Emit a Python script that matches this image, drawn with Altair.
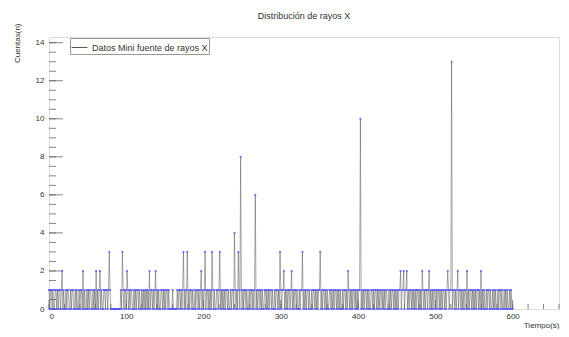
import altair as alt
import pandas as pd

# Counts per second, t = 0 .. 600 s
counts = [
    1,0,1,1,0,1,0,0,1,1,0,1,0,1,1,0,1,2,0,1,0,0,1,0,1,
    1,0,0,1,0,1,1,0,0,1,0,1,0,0,1,0,1,1,0,2,0,1,0,0,1,
    0,1,0,1,1,0,0,1,0,1,0,2,0,1,0,1,2,0,1,0,0,1,1,0,1,
    1,0,1,3,1,0,0,0,0,0,0,0,0,0,0,0,0,0,1,0,3,1,0,1,1,
    0,2,1,0,1,0,1,1,0,0,1,0,1,0,1,1,0,1,0,0,1,0,1,0,1,
    0,1,0,1,0,2,0,1,1,0,1,0,1,2,0,1,0,1,0,0,1,1,0,1,0,
    1,0,1,1,0,1,0,0,0,0,1,0,0,0,0,0,1,0,1,1,0,1,0,1,3,
    0,1,0,1,3,0,1,0,1,1,0,1,0,0,1,0,1,1,0,1,0,1,2,0,1,
    0,1,3,0,1,1,0,1,0,1,0,3,1,0,1,0,0,1,1,0,1,3,0,1,0,
    1,0,1,0,1,1,0,1,0,0,1,0,1,1,0,4,1,0,1,0,3,1,0,8,1,
    0,1,0,1,1,0,1,0,0,1,0,1,1,0,1,0,1,6,0,1,0,1,1,0,1,
    0,1,0,0,1,1,0,1,0,1,0,1,1,0,1,0,0,1,0,1,1,0,1,0,3,
    1,0,1,1,2,0,1,0,1,0,1,1,0,1,2,0,1,0,1,1,0,1,0,0,1,
    0,1,1,3,0,1,0,1,0,1,1,0,1,0,0,1,0,1,1,0,1,0,1,0,1,
    1,3,0,1,0,1,1,0,1,0,1,0,0,1,1,0,1,0,1,0,1,1,0,1,0,
    1,0,1,0,0,1,0,1,1,0,1,0,2,1,0,1,0,1,0,1,1,0,1,0,1,
    0,1,1,10,0,1,0,1,0,1,1,0,1,0,1,0,0,1,1,0,1,0,1,1,0,
    1,0,1,0,1,1,0,1,0,1,0,1,1,0,0,1,0,1,0,1,1,0,1,0,1,
    0,1,0,1,1,2,0,1,1,2,0,1,1,2,0,1,0,1,1,0,1,0,1,0,1,
    0,1,1,0,1,0,1,0,2,1,0,1,0,1,1,0,1,2,0,1,0,1,0,1,1,
    0,1,0,1,1,0,1,0,1,0,1,1,0,1,0,1,2,1,0,1,1,13,0,1,1,
    0,1,0,1,2,0,1,1,0,1,0,1,0,1,1,0,2,0,1,0,1,1,0,1,0,
    1,0,1,0,1,1,0,1,0,2,0,1,0,1,0,0,1,0,1,1,0,1,0,0,1,
    0,1,0,1,0,0,1,0,1,1,0,1,0,0,1,0,1,0,1,0,0,1,0,1,0,
    0,
]
times = list(range(len(counts)))

series_name = "Datos Mini fuente de rayos X"
x_major = [0, 100, 200, 300, 400, 500, 600]
x_minor = list(range(0, 661, 20))
y_major = [0, 2, 4, 6, 8, 10, 12, 14]
y_minor = [i * 0.5 for i in range(29)]

W, H = 510, 272
FONT = "Liberation Sans"
TXT = "#333333"

df = pd.DataFrame({"t": times, "n": counts, "serie": series_name})

xs = alt.Scale(domain=[0, 660], nice=False, zero=False)
ys = alt.Scale(domain=[0, 14.3], nice=False, zero=False)

x_axis = alt.Axis(
    values=x_major, ticks=False, domain=False, grid=False,
    labelFont=FONT, labelFontSize=8, labelColor=TXT, labelPadding=3,
    title="Tiempo(s)", titleFont=FONT, titleFontSize=8, titleFontWeight="normal",
    titleColor=TXT, titleAnchor="end", titleAlign="right", titleX=W,
    titleY=18, titleBaseline="alphabetic",
)
y_axis = alt.Axis(
    values=y_major, ticks=False, domain=False, grid=False,
    labelFont=FONT, labelFontSize=8, labelColor=TXT, labelPadding=5,
    title="Cuentas(n)", titleFont=FONT, titleFontSize=8, titleFontWeight="normal",
    titleColor=TXT, titleAnchor="end", titleX=-32, titleY=-14, titleAlign="right",
    titleAngle=270, titleBaseline="middle",
)

X_T = alt.X("t:Q", scale=xs, axis=x_axis)
Y_N = alt.Y("n:Q", scale=ys, axis=y_axis)

line = alt.Chart(df).mark_line(strokeWidth=0.5).encode(
    x=X_T,
    y=Y_N,
    color=alt.Color(
        "serie:N",
        scale=alt.Scale(range=["#555555"]),
        legend=alt.Legend(
            title=None, orient="none", legendX=21, legendY=1,
            symbolType="stroke", symbolSize=250, symbolStrokeWidth=1,
            labelFont=FONT, labelFontSize=9, labelColor=TXT, labelOffset=4,
            strokeColor="#999999", fillColor="white", padding=1,
        ),
    ),
)

points = alt.Chart(df).mark_square(size=4, color="#5050ff", opacity=0.7).encode(
    x=X_T, y=Y_N,
)

xt_major = alt.Chart(pd.DataFrame({"t": x_major})).mark_rule(color="#666", strokeWidth=0.8).encode(
    x=X_T, y=alt.value(H), y2=alt.value(H - 9)
)
xt_minor = alt.Chart(pd.DataFrame({"t": x_minor})).mark_rule(color="#666", strokeWidth=0.8).encode(
    x=X_T, y=alt.value(H), y2=alt.value(H - 5)
)
yt_major = alt.Chart(pd.DataFrame({"n": y_major})).mark_rule(color="#666", strokeWidth=0.8).encode(
    y=Y_N, x=alt.value(0), x2=alt.value(14)
)
yt_minor = alt.Chart(pd.DataFrame({"n": y_minor})).mark_rule(color="#666", strokeWidth=0.8).encode(
    y=Y_N, x=alt.value(0), x2=alt.value(7)
)

chart = alt.layer(line, xt_major, xt_minor, yt_major, yt_minor, points).properties(
    width=W, height=H,
    title=alt.TitleParams(
        "Distribución de rayos X", font=FONT, fontSize=9, fontWeight="normal",
        color=TXT, anchor="middle", frame="group", offset=2,
    ),
    autosize=alt.AutoSizeParams(type="none"),
    padding={"left": 41, "top": 29, "right": 2, "bottom": 20},
).configure_view(stroke="#888888", strokeWidth=1).configure(background="white")

chart.save("out.html", embed_options={"renderer": "svg", "actions": False})
